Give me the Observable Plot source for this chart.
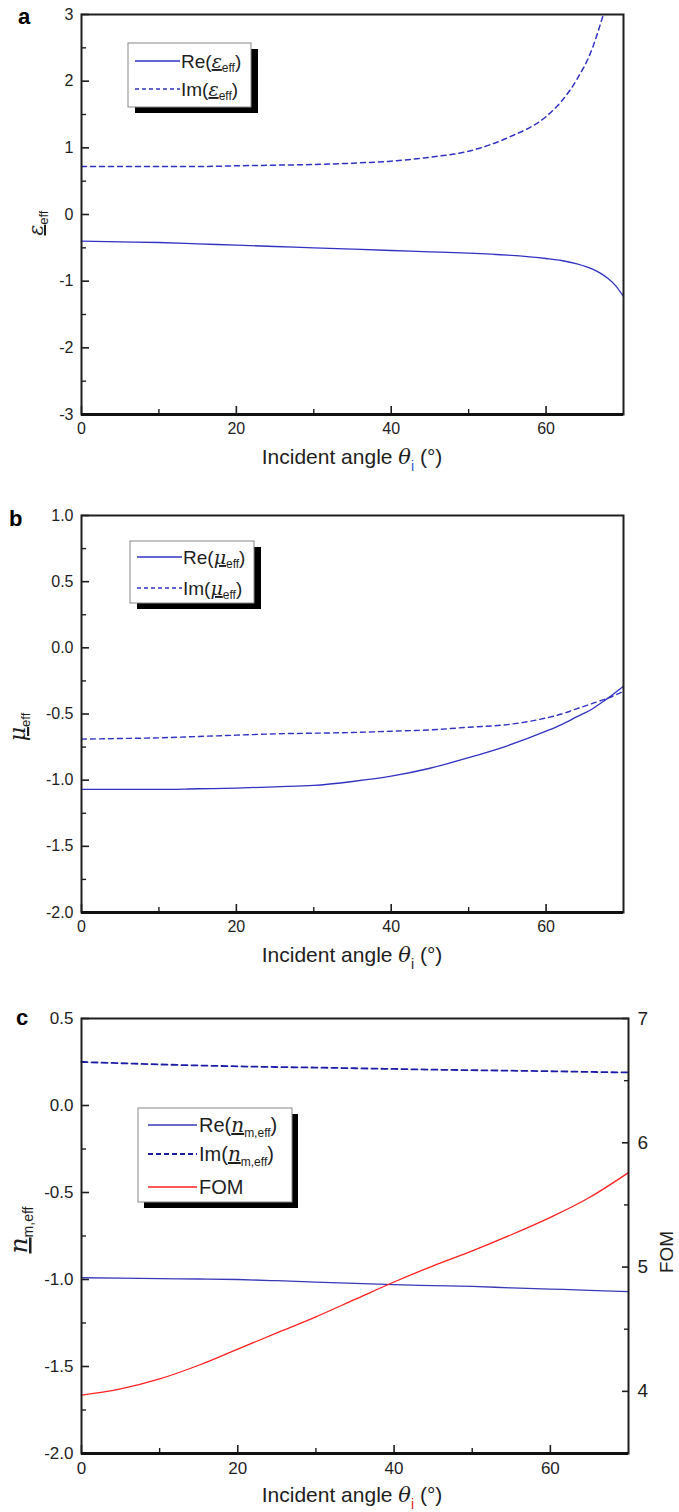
<!DOCTYPE html>
<html><head><meta charset="utf-8">
<script src="https://cdn.jsdelivr.net/npm/d3@7"></script>
<script src="https://cdn.jsdelivr.net/npm/@observablehq/plot@0.6"></script>
<style>
body{margin:0;background:#fff;font-family:"Liberation Sans",Arial,sans-serif;}
#wrap{width:679px;}
svg{display:block;}
</style></head><body><div id="wrap"></div>
<script>
// ---------- data ----------
const angles = [0,5,10,15,20,25,30,35,40,45,50,55,60,62,64,66,67,68,69,70];
// panel a
const reEps = [-0.40,-0.41,-0.42,-0.44,-0.46,-0.48,-0.50,-0.52,-0.54,-0.56,-0.58,-0.61,-0.66,-0.69,-0.74,-0.82,-0.88,-0.96,-1.07,-1.23];
const imEps = [0.72,0.72,0.72,0.72,0.73,0.74,0.75,0.77,0.80,0.86,0.95,1.15,1.47,1.70,2.03,2.50,2.85,3.25,3.8,4.6];
// panel b
const reMu = [-1.07,-1.07,-1.07,-1.065,-1.06,-1.05,-1.04,-1.01,-0.97,-0.91,-0.83,-0.74,-0.63,-0.58,-0.52,-0.46,-0.42,-0.38,-0.335,-0.29];
const imMu = [-0.69,-0.685,-0.68,-0.67,-0.66,-0.65,-0.645,-0.64,-0.63,-0.62,-0.60,-0.58,-0.53,-0.50,-0.46,-0.42,-0.40,-0.38,-0.355,-0.33];
// panel c
const anglesC = [0,5,10,15,20,25,30,35,40,45,50,55,60,65,70];
const reN = [-0.99,-0.992,-0.995,-0.997,-1.0,-1.007,-1.015,-1.022,-1.03,-1.035,-1.04,-1.048,-1.055,-1.062,-1.07];
const imN = [0.25,0.243,0.236,0.23,0.225,0.221,0.218,0.214,0.21,0.206,0.203,0.2,0.197,0.193,0.19];
const fom = [3.97,4.02,4.10,4.21,4.34,4.47,4.60,4.74,4.88,5.01,5.13,5.26,5.40,5.56,5.76];

const angleTicks = [0,20,40,60], angleMinor = [10,30,50];
const epsTicks = [-3,-2,-1,0,1,2,3], epsMinor = [-2.5,-1.5,-0.5,0.5,1.5,2.5];
const muTicks = [-2,-1.5,-1,-0.5,0,0.5,1], muMinor = [-1.75,-1.25,-0.75,-0.25,0.25,0.75];
const nTicks = [-2,-1.5,-1,-0.5,0,0.5], nMinor = [-1.75,-1.25,-0.75,-0.25,0.25];
const fomTicks = [4,5,6,7], fomMinor = [4.5,5.5,6.5];
const fomDomain = [3.5,7];
const nDomain = [-2,0.5];

const BLUE = "#3232c2", NAVY = "#1c1ca6", RED = "#ff2020", INK = "#1e1e1e";
const rows = (xs, ys) => xs.map((x,i) => ({x, y: ys[i]}));

function panel({height, mt, mb, mr, yDomain, yMajor, yMinor, yFmt, fs, xfs, marks, extra=[]}) {
  return Plot.plot({
    width: 679, height, marginTop: mt, marginBottom: mb, marginLeft: 81, marginRight: mr,
    style: {fontFamily: '"Liberation Sans", Arial, sans-serif', color: INK, background: "#fff"},
    x: {domain: [0,70], axis: null},
    y: {domain: yDomain, axis: null},
    marks: [
      Plot.axisX({ticks: angleTicks, tickSize: 0, tickPadding: 8, label: null, fontSize: xfs, tickFormat: d => String(d)}),
      Plot.axisX({ticks: angleTicks, tickSize: -8, strokeWidth: 1.6, tickFormat: () => "", label: null}),
      Plot.axisX({ticks: angleMinor, tickSize: -5, strokeWidth: 1.4, tickFormat: () => "", label: null}),
      Plot.axisY({ticks: yMajor, tickSize: 0, tickPadding: 8, tickFormat: yFmt, label: null, fontSize: fs}),
      Plot.axisY({ticks: yMajor, tickSize: -8, strokeWidth: 1.6, tickFormat: () => "", label: null}),
      Plot.axisY({ticks: yMinor, tickSize: -5, strokeWidth: 1.4, tickFormat: () => "", label: null}),
      ...extra,
      ...marks,
      Plot.frame({stroke: INK, strokeWidth: 2}),
      Plot.ruleY([yDomain[0]], {stroke: "#111", strokeWidth: 3})
    ]
  });
}

// rich text helper
function rich(sel, parts, size) {
  let shift = 0;
  parts.forEach(p => {
    const t = sel.append("tspan").text(p.t);
    let target = p.sub ? (p.subDy || size*0.35) : 0;
    if (target !== shift) { t.attr("dy", target - shift); shift = target; }
    t.attr("font-size", p.sub ? (p.subSize || size*0.62) : (p.size || size));
    if (p.italic) t.attr("font-style", "italic");
    if (p.underline) t.attr("text-decoration", "underline");
    if (p.fill) t.attr("fill", p.fill);
    if (p.family) t.attr("font-family", p.family);
  });
  return sel;
}
function addText(svg, x, y, parts, {size=16, anchor="start", rotate=0, weight=null, fill=INK} = {}) {
  const g = d3.select(svg).append("g").attr("transform", `translate(${x},${y}) rotate(${rotate})`);
  const t = g.append("text").attr("text-anchor", anchor).attr("fill", fill)
    .attr("font-family", '"Liberation Sans", Arial, sans-serif').attr("font-size", size);
  if (weight) t.attr("font-weight", weight);
  rich(t, parts, size);
}
function legend(svg, {x, y, w, h, sdx=7, sdy=6, lx0, lx1, tx, items, size=16}) {
  const s = d3.select(svg);
  s.append("rect").attr("x", x+sdx).attr("y", y+sdy).attr("width", w).attr("height", h).attr("fill", "#000");
  s.append("rect").attr("x", x).attr("y", y).attr("width", w).attr("height", h).attr("fill", "#fff").attr("stroke", "#888").attr("stroke-width", 1);
  items.forEach(it => {
    s.append("line").attr("x1", lx0).attr("x2", lx1).attr("y1", it.ly).attr("y2", it.ly)
      .attr("stroke", it.color).attr("stroke-width", it.sw || 1.3).attr("stroke-dasharray", it.dash || null);
    addText(svg, tx, it.ly + 7, it.parts, {size});
  });
}
const xLabel = (svg, cx, y, subFill) => addText(svg, cx, y, [
  {t: "Incident angle "}, {t: "θ", italic: true, family: '"DejaVu Serif", serif'},
  {t: "i", sub: true, fill: subFill, subSize: 14, subDy: 7}, {t: " (°)"}
], {size: 21, anchor: "middle"});

const wrap = document.getElementById("wrap");
const SERIF = '"DejaVu Serif", serif';

// ---------- panel a ----------
const svgA = panel({
  height: 490, mt: 14, mb: 76, mr: 56, yDomain: [-3,3], yMajor: epsTicks, yMinor: epsMinor,
  yFmt: d => String(d), fs: 16, xfs: 16,
  marks: [
    Plot.line(rows(angles, reEps), {x: "x", y: "y", stroke: BLUE, strokeWidth: 1.3, curve: "monotone-x"}),
    Plot.line(rows(angles, imEps), {x: "x", y: "y", stroke: BLUE, strokeWidth: 1.5, strokeDasharray: "5,4", curve: "monotone-x", clip: true})
  ]
});
wrap.appendChild(svgA);
addText(svgA, 18, 24, [{t: "a"}], {size: 22, weight: "bold", fill: "#000"});
addText(svgA, 43, 223, [{t: "ε", italic: true, underline: true, family: SERIF}, {t: "eff", sub: true, subSize: 13, subDy: 5}], {size: 20, anchor: "middle", rotate: -90});
xLabel(svgA, 352, 464, "#2a5ad0");
legend(svgA, {x: 128, y: 43, w: 123, h: 64, lx0: 135, lx1: 180, tx: 181, size: 19, items: [
  {ly: 61, color: BLUE, parts: [{t: "Re("}, {t: "ε", italic: true, underline: true, family: SERIF}, {t: "eff", sub: true, subSize: 12, subDy: 4}, {t: ")"}]},
  {ly: 89, color: BLUE, dash: "4,3", parts: [{t: "Im("}, {t: "ε", italic: true, underline: true, family: SERIF}, {t: "eff", sub: true, subSize: 12, subDy: 4}, {t: ")"}]}
]});

// ---------- panel b ----------
const svgB = panel({
  height: 500, mt: 25, mb: 78, mr: 56, yDomain: [-2,1], yMajor: muTicks, yMinor: muMinor,
  yFmt: d => d.toFixed(1), fs: 16, xfs: 16,
  marks: [
    Plot.line(rows(angles, reMu), {x: "x", y: "y", stroke: BLUE, strokeWidth: 1.3, curve: "monotone-x"}),
    Plot.line(rows(angles, imMu), {x: "x", y: "y", stroke: BLUE, strokeWidth: 1.4, strokeDasharray: "5,4", curve: "monotone-x"})
  ]
});
wrap.appendChild(svgB);
addText(svgB, 9, 36, [{t: "b"}], {size: 22, weight: "bold", fill: "#000"});
addText(svgB, 25, 237, [{t: "μ", italic: true, underline: true, family: SERIF}, {t: "eff", sub: true, subSize: 13, subDy: 5}], {size: 22, anchor: "middle", rotate: -90});
xLabel(svgB, 352, 472, INK);
legend(svgB, {x: 130, y: 51, w: 124, h: 62, lx0: 137, lx1: 182, tx: 183, size: 19, items: [
  {ly: 67, color: BLUE, parts: [{t: "Re("}, {t: "μ", italic: true, underline: true, family: SERIF}, {t: "eff", sub: true, subSize: 12, subDy: 4}, {t: ")"}]},
  {ly: 98, color: BLUE, dash: "4,3", parts: [{t: "Im("}, {t: "μ", italic: true, underline: true, family: SERIF}, {t: "eff", sub: true, subSize: 12, subDy: 4}, {t: ")"}]}
]});

// ---------- panel c ----------
const toLeft = f => nDomain[0] + (f - fomDomain[0]) * (nDomain[1]-nDomain[0]) / (fomDomain[1]-fomDomain[0]);
const fromLeft = v => fomDomain[0] + (v - nDomain[0]) * (fomDomain[1]-fomDomain[0]) / (nDomain[1]-nDomain[0]);
const svgC = panel({
  height: 522, mt: 28, mb: 59, mr: 51, yDomain: nDomain, yMajor: nTicks, yMinor: nMinor,
  yFmt: d => d.toFixed(1), fs: 17, xfs: 17,
  extra: [
    Plot.axisY({anchor: "right", ticks: fomTicks.map(toLeft), tickSize: 0, tickPadding: 9, fontSize: 19, label: null, tickFormat: d => String(Math.round(fromLeft(d)))}),
    Plot.axisY({anchor: "right", ticks: fomTicks.map(toLeft), tickSize: -7, strokeWidth: 1.6, tickFormat: () => "", label: null}),
    Plot.axisY({anchor: "right", ticks: fomMinor.map(toLeft), tickSize: -5, strokeWidth: 1.4, tickFormat: () => "", label: null})
  ],
  marks: [
    Plot.line(rows(anglesC, reN), {x: "x", y: "y", stroke: "#3a3ab8", strokeWidth: 1.3, curve: "monotone-x"}),
    Plot.line(rows(anglesC, imN), {x: "x", y: "y", stroke: NAVY, strokeWidth: 1.8, strokeDasharray: "6,4", curve: "monotone-x"}),
    Plot.line(rows(anglesC, fom), {x: "x", y: d => toLeft(d.y), stroke: RED, strokeWidth: 1.3, curve: "monotone-x"})
  ]
});
wrap.appendChild(svgC);
addText(svgC, 16, 35, [{t: "c"}], {size: 22, weight: "bold", fill: "#000"});
addText(svgC, 27, 240, [{t: "n", italic: true, underline: true, family: SERIF}, {t: "m,eff", sub: true, subSize: 14, subDy: 6}], {size: 25, anchor: "middle", rotate: -90});
addText(svgC, 673, 262, [{t: "FOM"}], {size: 19, anchor: "middle", rotate: -90});
xLabel(svgC, 352, 512, "#e02020");
legend(svgC, {x: 138, y: 118, w: 154, h: 94, sdx: 6, sdy: 6, lx0: 148, lx1: 197, tx: 199, size: 20, items: [
  {ly: 135, color: "#3a3ab8", parts: [{t: "Re("}, {t: "n", italic: true, underline: true, family: SERIF}, {t: "m,eff", sub: true, subSize: 12, subDy: 5}, {t: ")"}]},
  {ly: 164, color: NAVY, sw: 1.8, dash: "5,3", parts: [{t: "Im("}, {t: "n", italic: true, underline: true, family: SERIF}, {t: "m,eff", sub: true, subSize: 12, subDy: 5}, {t: ")"}]},
  {ly: 197, color: RED, parts: [{t: "FOM"}]}
]});
</script>
</body></html>
